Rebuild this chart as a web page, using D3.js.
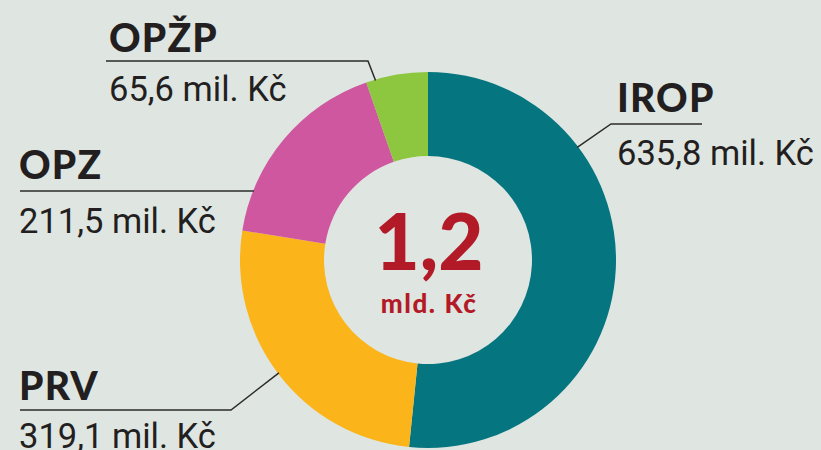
<!DOCTYPE html>
<html><head><meta charset="utf-8">
<script src="https://cdn.jsdelivr.net/npm/d3@7"></script>
<style>
html,body{margin:0;padding:0;background:#dfe5e0;}
svg{display:block;}
.lab{font-family:Lato,"Open Sans",sans-serif;font-weight:900;fill:#231f20;}
.val{font-family:Roboto,sans-serif;font-weight:400;fill:#231f20;}
</style></head>
<body>
<svg id="c" width="821" height="450"></svg>
<script>
const categories = ["IROP", "PRV", "OPZ", "OPŽP"];
const values = [635.8, 319.1, 211.5, 65.6];
const valueLabels = ["635,8 mil. Kč", "319,1 mil. Kč", "211,5 mil. Kč", "65,6 mil. Kč"];
const colors = ["#057580", "#fbb41a", "#cf57a0", "#8dc63f"];
const totalLabel = "1,2";
const totalUnit = "mld. Kč";

// layout (annotation placement)
const cx = 428, cy = 260, rOuter = 188, rInner = 104;
const layout = {
  "IROP": {x: 617, lineY: 124, lineX0: 702, elbowX: 611, frac: 0.285, labelY: 112, valueY: 165},
  "PRV":  {x: 19, lineY: 410, lineX0: 20, elbowX: 231, frac: 0.505, labelY: 400, valueY: 448},
  "OPZ":  {x: 19, lineY: 191, lineX0: 20, elbowX: null, frac: 0.202, labelY: 179, valueY: 233},
  "OPŽP": {x: 109, lineY: 61, lineX0: 106, elbowX: 368, frac: 0.15, labelY: 52, valueY: 101}
};

const svg = d3.select("#c");
svg.append("rect").attr("width", 821).attr("height", 450).attr("fill", "#dfe5e0");

const data = categories.map((c, i) => ({name: c, value: values[i], label: valueLabels[i], color: colors[i]}));
const pie = d3.pie().sort(null).value(d => d.value);
const arcs = pie(data);
const arc = d3.arc().innerRadius(rInner).outerRadius(rOuter);

const g = svg.append("g").attr("transform", `translate(${cx},${cy})`);
g.selectAll("path").data(arcs).join("path")
  .attr("d", arc).attr("fill", d => d.data.color);

// leader lines and labels
arcs.forEach(a => {
  const L = layout[a.data.name];
  const ang = a.startAngle + (a.endAngle - a.startAngle) * L.frac;
  const px = cx + Math.sin(ang) * (rOuter - 1);
  const py = cy - Math.cos(ang) * (rOuter - 1);
  let pts;
  if (L.elbowX === null) {
    pts = [[L.lineX0, L.lineY], [px, L.lineY]];
  } else {
    pts = [[L.lineX0, L.lineY], [L.elbowX, L.lineY], [px, py]];
  }
  svg.append("path")
    .attr("d", d3.line()(pts))
    .attr("fill", "none").attr("stroke", "#2b2b2b").attr("stroke-width", 1.5);
  svg.append("text").attr("class", "lab")
    .attr("x", L.x).attr("y", L.labelY)
    .attr("font-size", 39).attr("letter-spacing", 1.2).text(a.data.name);
  svg.append("text").attr("class", "val")
    .attr("x", L.x).attr("y", L.valueY)
    .attr("font-size", 34.5).text(a.data.label);
});

// center total
svg.append("text").attr("class", "lab")
  .attr("x", cx + 1).attr("y", 270).attr("text-anchor", "middle")
  .attr("font-size", 78).style("fill", "#b31a27").text(totalLabel);
svg.append("text").attr("class", "lab")
  .attr("x", cx + 1).attr("y", 313).attr("text-anchor", "middle")
  .attr("font-size", 26).attr("letter-spacing", 1.6).style("fill", "#b31a27").text(totalUnit);
</script>
</body></html>
